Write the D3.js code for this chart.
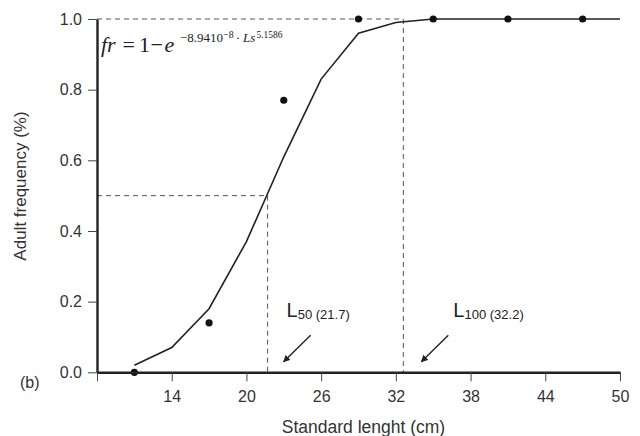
<!DOCTYPE html>
<html>
<head>
<meta charset="utf-8">
<script src="https://cdn.jsdelivr.net/npm/d3@7"></script>
<style>
  html, body { margin: 0; padding: 0; background: #fff; }
  svg { display: block; }
  .axis text { font-family: "Liberation Sans", Arial, sans-serif; font-size: 16px; fill: #333; }
  .axis .domain { stroke: #222; stroke-width: 2.4px; }
  .axis .tick line { stroke: #444; stroke-width: 1px; }
</style>
</head>
<body>
<svg id="chart" width="640" height="436"></svg>
<script>
// observed adult frequency by size class
const obsLength = [11, 17, 23, 29, 35, 41, 47];
const obsFreq = [0, 0.14, 0.77, 1, 1, 1, 1];

// fitted curve
const fitLength = [11, 14, 17, 20, 23, 26, 29, 32, 35, 38, 41, 44, 47, 50];
const fitFreq = [0.02, 0.07, 0.18, 0.37, 0.61, 0.83, 0.96, 0.99, 1, 1, 1, 1, 1, 1];

const xTicks = [8, 14, 20, 26, 32, 38, 44, 50];
const xTickLabels = ["", "14", "20", "26", "32", "38", "44", "50"];
const yTicks = [0, 0.2, 0.4, 0.6, 0.8, 1.0];

const l50 = 21.7;   // drawn position
const l100 = 32.6;  // drawn position (label says 32.2)

const svg = d3.select("#chart");
const width = +svg.attr("width");
const height = +svg.attr("height");

const x = d3.scaleLinear().domain([8, 50]).range([97, 620]);
const y = d3.scaleLinear().domain([0, 1]).range([372.3, 19]);

svg.append("rect").attr("width", width).attr("height", height).attr("fill", "#fff");

// marker for annotation arrows
svg.append("defs").append("marker")
  .attr("id", "arr")
  .attr("viewBox", "0 0 10 10")
  .attr("refX", 9).attr("refY", 5)
  .attr("markerWidth", 7).attr("markerHeight", 7)
  .attr("markerUnits", "userSpaceOnUse")
  .attr("orient", "auto")
  .append("path")
  .attr("d", "M0,0 L10,5 L0,10 z")
  .attr("fill", "#222");

// -------------------- reference dashed lines --------------------
const dash = svg.append("g")
  .attr("stroke", "#555")
  .attr("stroke-width", 1)
  .attr("stroke-dasharray", "5,4")
  .attr("fill", "none");

dash.append("line")
  .attr("x1", x(8)).attr("x2", x(l50))
  .attr("y1", y(0.5)).attr("y2", y(0.5));
dash.append("line")
  .attr("x1", x(l50)).attr("x2", x(l50))
  .attr("y1", y(0.5)).attr("y2", y(0));
dash.append("line")
  .attr("x1", x(8)).attr("x2", x(l100))
  .attr("y1", y(1)).attr("y2", y(1));
dash.append("line")
  .attr("x1", x(l100)).attr("x2", x(l100))
  .attr("y1", y(1)).attr("y2", y(0));

// -------------------- fitted curve --------------------
const fit = fitLength.map((d, i) => [d, fitFreq[i]]);
svg.append("path")
  .datum(fit)
  .attr("fill", "none")
  .attr("stroke", "#222")
  .attr("stroke-width", 1.6)
  .attr("d", d3.line().x(d => x(d[0])).y(d => y(d[1])));

// -------------------- observed points --------------------
svg.append("g")
  .selectAll("circle")
  .data(obsLength.map((d, i) => [d, obsFreq[i]]))
  .enter()
  .append("circle")
  .attr("cx", d => x(d[0]))
  .attr("cy", d => y(d[1]))
  .attr("r", 3.6)
  .attr("fill", "#111");

// -------------------- axes --------------------
svg.append("g")
  .attr("class", "axis")
  .attr("transform", `translate(0,${y(0)})`)
  .call(d3.axisBottom(x).tickValues(xTicks)
    .tickFormat((d, i) => xTickLabels[i])
    .tickSize(9).tickSizeOuter(0).tickPadding(9));

svg.append("g")
  .attr("class", "axis")
  .attr("transform", `translate(${x(8)},0)`)
  .call(d3.axisLeft(y).tickValues(yTicks)
    .tickFormat(d3.format(".1f"))
    .tickSize(9).tickSizeOuter(0).tickPadding(6));

svg.append("text")
  .attr("x", (x(8) + x(50)) / 2 + 5)
  .attr("y", 433)
  .attr("text-anchor", "middle")
  .attr("font-family", "Liberation Sans, Arial, sans-serif")
  .attr("font-size", 17.5)
  .attr("fill", "#333")
  .text("Standard  lenght (cm)");

svg.append("text")
  .attr("transform", "translate(26,186) rotate(-90)")
  .attr("text-anchor", "middle")
  .attr("font-family", "Liberation Sans, Arial, sans-serif")
  .attr("font-size", 17)
  .attr("fill", "#333")
  .text("Adult frequency (%)");

svg.append("text")
  .attr("x", 20).attr("y", 388)
  .attr("font-family", "Liberation Sans, Arial, sans-serif")
  .attr("font-size", 16)
  .attr("fill", "#333")
  .text("(b)");

// -------------------- equation --------------------
const eq = svg.append("text")
  .attr("y", 52)
  .attr("font-family", "Liberation Serif, Times New Roman, serif")
  .attr("fill", "#222")
  .attr("font-size", 22);
eq.append("tspan").attr("x", 101).attr("font-style", "italic").text("fr");
eq.append("tspan").attr("x", 122.5).text("=");
eq.append("tspan").attr("x", 139).text("1");
eq.append("tspan").attr("x", 150.5).text("\u2212");
eq.append("tspan").attr("x", 164.5).attr("font-style", "italic").text("e");
eq.append("tspan").attr("x", 180).attr("dy", -10).attr("font-size", 13).text("\u22128.9410");
eq.append("tspan").attr("dy", -4).attr("font-size", 10).text("\u22128");
eq.append("tspan").attr("dy", 4).attr("font-size", 13).attr("dx", 2).text("\u00b7");
eq.append("tspan").attr("font-size", 13).attr("font-style", "italic").attr("dx", 3).text("Ls");
eq.append("tspan").attr("dy", -4).attr("font-size", 9.5).attr("dx", 1).text("5.1586");

// -------------------- L50 / L100 annotations --------------------
function annotate(pos, main, sub, labelDx, arrowDx) {
  const t = svg.append("text")
    .attr("x", x(pos) + labelDx).attr("y", 317)
    .attr("font-family", "Liberation Sans, Arial, sans-serif")
    .attr("fill", "#222")
    .attr("font-size", 20);
  t.append("tspan").text(main);
  t.append("tspan").attr("font-size", 13).attr("dy", 2).text(sub);

  svg.append("line")
    .attr("x1", x(pos) + arrowDx + 27).attr("y1", y(0.105))
    .attr("x2", x(pos) + arrowDx).attr("y2", y(0.03))
    .attr("stroke", "#222")
    .attr("stroke-width", 1.4)
    .attr("marker-end", "url(#arr)");
}
annotate(l50, "L", "50 (21.7)", 19, 16);
annotate(l100, "L", "100 (32.2)", 50, 18);
</script>
</body>
</html>
